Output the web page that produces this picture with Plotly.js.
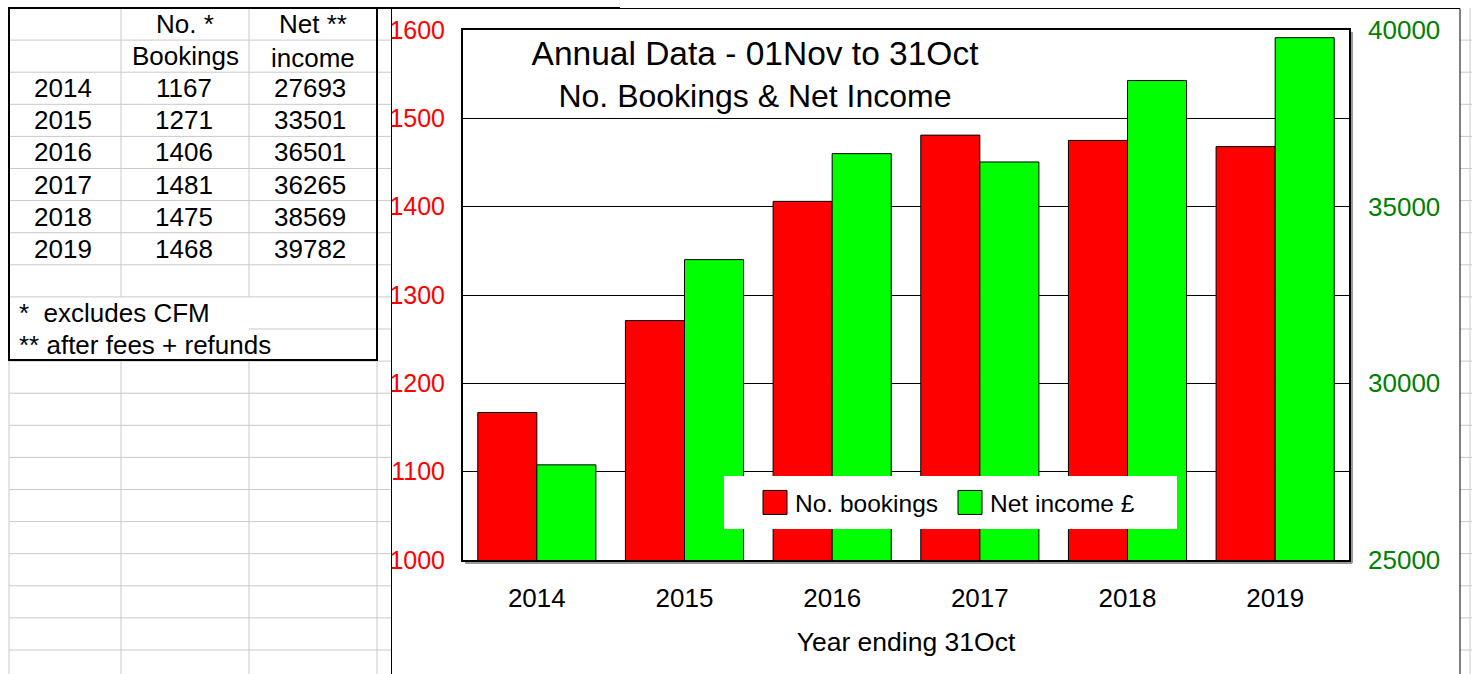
<!DOCTYPE html>
<html><head><meta charset="utf-8">
<script src="https://cdn.plot.ly/plotly-3.0.1.min.js"></script>
<style>html,body{margin:0;padding:0;background:#fff;overflow:hidden}#chart{width:1472px;height:674px}</style>
</head><body><div id="chart"></div>
<script>
// ---- data ----
const years = ['2014', '2015', '2016', '2017', '2018', '2019'];
const bookings = [1167, 1271, 1406, 1481, 1475, 1468];
const netIncome = [27693, 33501, 36501, 36265, 38569, 39782];
const seriesNames = ['No. bookings', 'Net income £'];
const headerBookings = ['No. *', 'Bookings'];
const headerIncome = ['Net **', 'income'];
const tableNotes = ['*\u00a0\u00a0excludes CFM', '** after fees + refunds'];
const titleLines = ['Annual Data - 01Nov to 31Oct', 'No. Bookings & Net Income'];
const xTitle = 'Year ending 31Oct';

// ---- geometry helpers (pixel -> paper) ----
const PL = 463, PR = 1349, PT = 30, PB = 560;
const X = px => (px - PL) / (PR - PL);
const Y = py => (PB - py) / (PB - PT);
const FONT = 'Liberation Sans, Arial, Helvetica, sans-serif';
const ROW0 = 8, ROWH = 32.1;
const rowLine = k => ROW0 + ROWH * k;
const rowMid = k => ROW0 + ROWH * k + ROWH / 2;
const COLS = [9, 121, 249, 377];

const shapes = [];
const gray = '#c9c9c9';
function hline(y, x0, x1, color, w) {
  shapes.push({type: 'line', xref: 'paper', yref: 'paper', layer: 'below',
    x0: X(x0), x1: X(x1), y0: Y(y), y1: Y(y), line: {color: color, width: w}});
}
function vline(x, y0, y1, color, w) {
  shapes.push({type: 'line', xref: 'paper', yref: 'paper', layer: 'below',
    x0: X(x), x1: X(x), y0: Y(y0), y1: Y(y1), line: {color: color, width: w}});
}
// spreadsheet grid
for (let k = 1; k <= 21; k++) {
  const y = rowLine(k);
  if (k === 10) hline(y, COLS[2], 1472, gray, 1);
  else hline(y, COLS[0], 1472, gray, 1);
}
vline(COLS[0], 360, 680, gray, 1);
vline(COLS[1], 8, rowLine(9), gray, 1);
vline(COLS[1], 360, 680, gray, 1);
vline(COLS[2], 8, rowLine(9), gray, 1);
vline(COLS[2], 360, 680, gray, 1);
vline(COLS[3], 360, 680, gray, 1);
vline(1470, 8, 680, gray, 1);
// table outer border
shapes.push({type: 'rect', xref: 'paper', yref: 'paper', layer: 'below',
  x0: X(9), x1: X(377), y0: Y(8), y1: Y(360), line: {color: '#000', width: 2}});
// chart object area
shapes.push({type: 'rect', xref: 'paper', yref: 'paper', layer: 'below',
  x0: X(391.5), x1: X(1460), y0: Y(8.5), y1: Y(700), fillcolor: '#fff', line: {color: '#000', width: 1}});
hline(8, 377, 620, '#000', 2);
// plot area shadows
hline(563, 465, 1352, '#9a9a9a', 2);
vline(1352, 32, 563, '#9a9a9a', 2);
// legend background box
shapes.push({type: 'rect', xref: 'paper', yref: 'paper', layer: 'above',
  x0: X(724), x1: X(1177), y0: Y(476), y1: Y(529), fillcolor: '#fff', line: {width: 0}});

// ---- table annotations ----
const annotations = [];
function txt(text, x, y, anchor) {
  annotations.push({xref: 'paper', yref: 'paper', x: X(x), y: Y(y), text: text,
    showarrow: false, xanchor: anchor || 'center', yanchor: 'middle',
    font: {family: FONT, size: 26, color: '#000'}});
}
const c1 = (COLS[0] + COLS[1]) / 2, c2 = (COLS[1] + COLS[2]) / 2, c3 = (COLS[2] + COLS[3]) / 2;
txt(headerBookings[0], c2, 24);
txt(headerBookings[1], c2, 56);
txt(headerIncome[0], c3, 24);
txt(headerIncome[1], c3, 58);
years.forEach((yr, i) => {
  txt(yr, c1 - 2, rowMid(i + 2));
  txt(String(bookings[i]), c2 - 1, rowMid(i + 2));
  txt(String(netIncome[i]), c3 - 3, rowMid(i + 2));
});
txt(tableNotes[0], 17, rowMid(9), 'left');
txt(tableNotes[1], 17, rowMid(10), 'left');

// ---- traces ----
const traces = [
  {type: 'bar', x: years, y: bookings, name: seriesNames[0], yaxis: 'y', offsetgroup: '1',
   marker: {color: '#FF0000', line: {color: '#000', width: 1}}, hoverinfo: 'x+y'},
  {type: 'bar', x: years, y: netIncome, name: seriesNames[1], yaxis: 'y2', offsetgroup: '2',
   marker: {color: '#00FF00', line: {color: '#000', width: 1}}, hoverinfo: 'x+y'}
];

const layout = {
  width: 1472, height: 674,
  margin: {l: PL, r: 1472 - PR, t: PT, b: 674 - PB, pad: 0},
  paper_bgcolor: '#fff', plot_bgcolor: 'rgba(0,0,0,0)',
  font: {family: FONT, color: '#000', size: 24},
  barmode: 'group', bargap: 0.2, bargroupgap: 0,
  showlegend: true,
  title: {text: '<span style="font-size:33.5px">' + titleLines[0] + '</span><br>' + titleLines[1],
    font: {family: FONT, size: 32, color: '#000'},
    xref: 'paper', x: X(755), xanchor: 'center', yref: 'container', y: 1 - 65 / 674, yanchor: 'top'},
  legend: {orientation: 'h', xref: 'paper', yref: 'paper', x: X(950), xanchor: 'center',
    y: Y(502.5), yanchor: 'middle', bgcolor: 'rgba(0,0,0,0)', borderwidth: 0,
    entrywidth: 150, entrywidthmode: 'pixels',
    font: {family: FONT, size: 24.5, color: '#000'}},
  xaxis: {type: 'category', showline: true, linecolor: '#000', linewidth: 2, mirror: true,
    ticks: '', showgrid: false, zeroline: false, ticklabelstandoff: 14,
    tickfont: {family: FONT, size: 26, color: '#000'},
    title: {text: xTitle, font: {family: FONT, size: 26.5, color: '#000'}, standoff: 20}},
  yaxis: {range: [1000, 1600], tick0: 1000, dtick: 100, tickformat: 'd',
    showgrid: true, gridcolor: '#000', gridwidth: 1, zeroline: false,
    showline: true, linecolor: '#000', linewidth: 2, mirror: true, ticks: '',
    ticklabelstandoff: 11, tickfont: {family: FONT, size: 25, color: '#FF0000'}},
  yaxis2: {overlaying: 'y', side: 'right', range: [25000, 40000], tick0: 25000, dtick: 5000,
    tickformat: 'd', showgrid: false, zeroline: false, showline: false, ticks: '',
    ticklabelstandoff: 18, tickfont: {family: FONT, size: 26, color: '#008000'}},
  shapes: shapes,
  annotations: annotations
};

Plotly.newPlot('chart', traces, layout, {displayModeBar: false, staticPlot: true}).then(() => {
  document.querySelectorAll('#chart .legend .legendpoints path').forEach(p => {
    p.setAttribute('d', 'M12,12H-12V-12H12Z');
  });
});
</script>
</body></html>
